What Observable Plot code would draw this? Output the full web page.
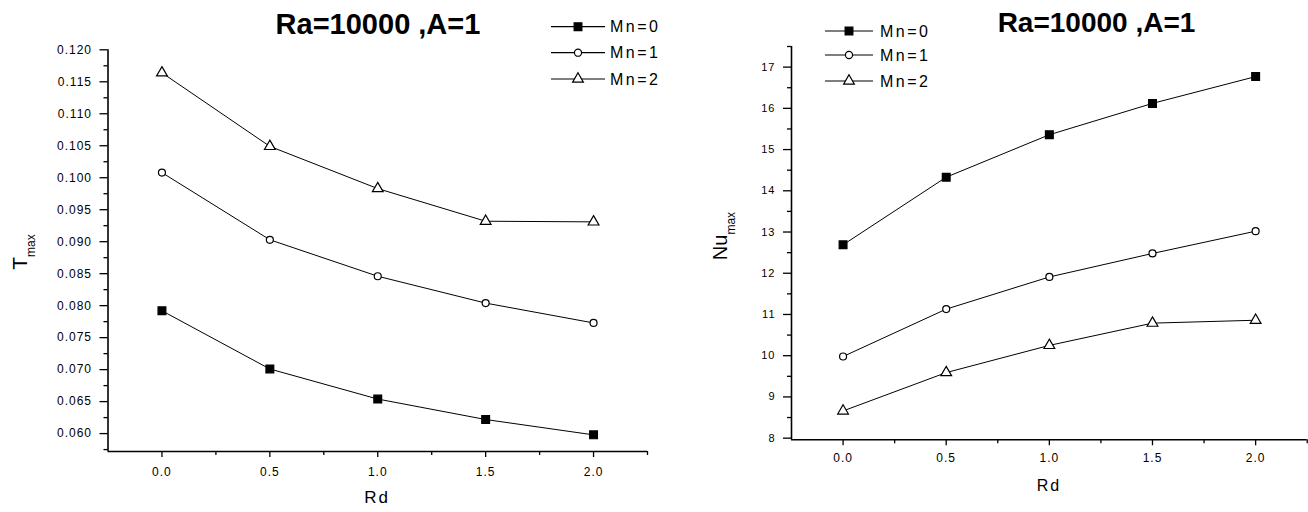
<!DOCTYPE html>
<html><head><meta charset="utf-8">
<script src="https://cdn.jsdelivr.net/npm/d3@7"></script>
<script src="https://cdn.jsdelivr.net/npm/@observablehq/plot@0.6"></script>
<style>
body{margin:0;background:#fff;}
#wrap{display:flex;width:1308px;height:512px;background:#fff;}
svg{display:block;overflow:visible;}
</style></head><body><div id="wrap"></div>
<script>
// ---- data ----
const rd = [0, 0.5, 1.0, 1.5, 2.0];
const seriesNames = ["Mn=0", "Mn=1", "Mn=2"];
const seriesSymbols = ["square", "circle", "triangle"];
const seriesFill = ["black", "white", "white"];
const tmaxMn0 = [0.0792, 0.0701, 0.0654, 0.0622, 0.0598];
const tmaxMn1 = [0.1008, 0.0903, 0.0846, 0.0804, 0.0773];
const tmaxMn2 = [0.1164, 0.1049, 0.0983, 0.0932, 0.0931];
const nuMn0 = [12.69, 14.33, 15.36, 16.12, 16.77];
const nuMn1 = [9.98, 11.13, 11.91, 12.48, 13.02];
const nuMn2 = [8.66, 9.59, 10.25, 10.79, 10.86];
const xTicks = [0, 0.5, 1.0, 1.5, 2.0];
const xTickLabels = ["0.0", "0.5", "1.0", "1.5", "2.0"];
const xMinor = [0.25, 0.75, 1.25, 1.75, 2.25];
const tTicks = [0.060, 0.065, 0.070, 0.075, 0.080, 0.085, 0.090, 0.095, 0.100, 0.105, 0.110, 0.115, 0.120];
const tTickLabels = ["0.060", "0.065", "0.070", "0.075", "0.080", "0.085", "0.090", "0.095", "0.100", "0.105", "0.110", "0.115", "0.120"];
const tMinor = [0.0575, 0.0625, 0.0675, 0.0725, 0.0775, 0.0825, 0.0875, 0.0925, 0.0975, 0.1025, 0.1075, 0.1125, 0.1175];
const nuTicks = [8, 9, 10, 11, 12, 13, 14, 15, 16, 17];
const nuTickLabels = ["8", "9", "10", "11", "12", "13", "14", "15", "16", "17"];
const nuMinor = [8.5, 9.5, 10.5, 11.5, 12.5, 13.5, 14.5, 15.5, 16.5, 17.5];
const titleText = "Ra=10000 ,A=1";

function rows(seriesVals) {
  return seriesVals.map((vals, s) => rd.map((x, i) => ({rd: x, v: vals[i], series: seriesNames[s]})));
}

function makeChart(cfg) {
  const data = rows(cfg.values);
  const marks = [
    Plot.ruleX([cfg.xDomain[0]], {stroke: "black", strokeWidth: 1.6}),
    Plot.ruleY([cfg.yDomain[0]], {stroke: "black", strokeWidth: 1.6}),
    Plot.axisY(cfg.yTicks, {tickSize: 8, tickPadding: 8, strokeWidth: 1.3, fontSize: cfg.yFont,
      tickFormat: d => cfg.yLabels[cfg.yTicks.indexOf(d)]}),
    Plot.axisY(cfg.yMinor.filter(d => d >= cfg.yDomain[0] && d <= cfg.yDomain[1]), {tickSize: 4, strokeWidth: 1.3, tickFormat: () => ""}),
    Plot.axisX(xTicks, {tickSize: 6, tickPadding: cfg.xPad, strokeWidth: 1.3, fontSize: 12,
      tickFormat: d => xTickLabels[xTicks.indexOf(d)]}),
    Plot.axisX(xMinor, {tickSize: 4, strokeWidth: 1.3, tickFormat: () => ""})
  ];
  data.forEach((d, s) => {
    marks.push(Plot.line(d, {x: "rd", y: "v", stroke: "black", strokeWidth: 1}));
  });
  data.forEach((d, s) => {
    marks.push(Plot.dot(d, {x: "rd", y: "v", symbol: () => seriesSymbols[s], fill: seriesFill[s], stroke: "black",
      strokeWidth: 1.2, r: s === 0 ? 4.4 : (s === 1 ? 3.5 : 4)}));
  });
  const svg = Plot.plot({
    width: 654, height: 512,
    marginLeft: cfg.mL, marginRight: cfg.mR, marginTop: cfg.mT, marginBottom: cfg.mB,
    x: {domain: cfg.xDomain, label: null},
    y: {domain: cfg.yDomain, label: null},
    symbol: {type: "identity"},
    style: {fontFamily: "'Liberation Sans', Arial, sans-serif", fontSize: "12px", color: "black", background: "transparent", letterSpacing: "1px", overflow: "visible"},
    marks
  });
  const g = d3.select(svg);
  // title
  g.append("text").attr("x", cfg.titleX).attr("y", cfg.titleY).attr("text-anchor", "middle")
    .attr("font-size", cfg.titleSize).attr("font-weight", "bold").attr("letter-spacing", "0")
    .attr("font-family", "'Liberation Sans', Arial, sans-serif").attr("fill", "black").text(titleText);
  // x label
  g.append("text").attr("x", cfg.rdX).attr("y", cfg.rdY).attr("text-anchor", "middle")
    .attr("font-size", cfg.rdSize).attr("letter-spacing", "2px").attr("fill", "black").text("Rd");
  // y label with subscript
  const yl = g.append("text").attr("transform", `translate(${cfg.ylX},${cfg.ylY}) rotate(-90)`)
    .attr("text-anchor", "middle").attr("fill", "black").attr("letter-spacing", "0");
  yl.append("tspan").attr("font-size", cfg.ylSize).text(cfg.ylMain);
  yl.append("tspan").attr("font-size", 12).attr("dy", 8).text("max");
  // legend
  seriesNames.forEach((name, s) => {
    const y = cfg.legY[s];
    g.append("line").attr("x1", cfg.legX1).attr("x2", cfg.legX2).attr("y1", y).attr("y2", y)
      .attr("stroke", "black").attr("stroke-width", 1.2);
    const sym = [d3.symbolSquare, d3.symbolCircle, d3.symbolTriangle][s];
    const size = [60, 40, 50][s];
    g.append("path").attr("d", d3.symbol(sym, size)()).attr("transform", `translate(${cfg.legM},${y})`)
      .attr("fill", seriesFill[s]).attr("stroke", "black").attr("stroke-width", 1.2);
    g.append("text").attr("x", cfg.legT).attr("y", y).attr("dy", "0.36em").attr("font-size", 16)
      .attr("text-anchor", "start")
      .attr("letter-spacing", "2.5px").attr("fill", "black").text(name);
  });
  return svg;
}

const left = makeChart({
  values: [tmaxMn0, tmaxMn1, tmaxMn2],
  xDomain: [-0.25, 2.25], yDomain: [0.0572, 0.120],
  yTicks: tTicks, yLabels: tTickLabels, yMinor: tMinor, yFont: 12,
  mL: 107.5, mR: 7, mT: 49.3, mB: 61, xPad: 10,
  titleX: 378, titleY: 34, titleSize: 29,
  rdX: 377, rdY: 503, rdSize: 17,
  ylX: 27, ylY: 252, ylSize: 21, ylMain: "T",
  legX1: 551, legX2: 605, legM: 578, legT: 610, legY: [26.7, 52.7, 79]
});
const right = makeChart({
  values: [nuMn0, nuMn1, nuMn2],
  xDomain: [-0.25, 2.25], yDomain: [7.96, 17.5],
  yTicks: nuTicks, yLabels: nuTickLabels, yMinor: nuMinor, yFont: 11,
  mL: 137, mR: 1.3, mT: 46, mB: 72.7, xPad: 8,
  titleX: 442.5, titleY: 32, titleSize: 28,
  rdX: 395, rdY: 491, rdSize: 16,
  ylX: 73, ylY: 236, ylSize: 20, ylMain: "Nu",
  legX1: 171, legX2: 219, legM: 195, legT: 226, legY: [31, 55, 81]
});
document.getElementById("wrap").append(left, right);
</script>
</body></html>
